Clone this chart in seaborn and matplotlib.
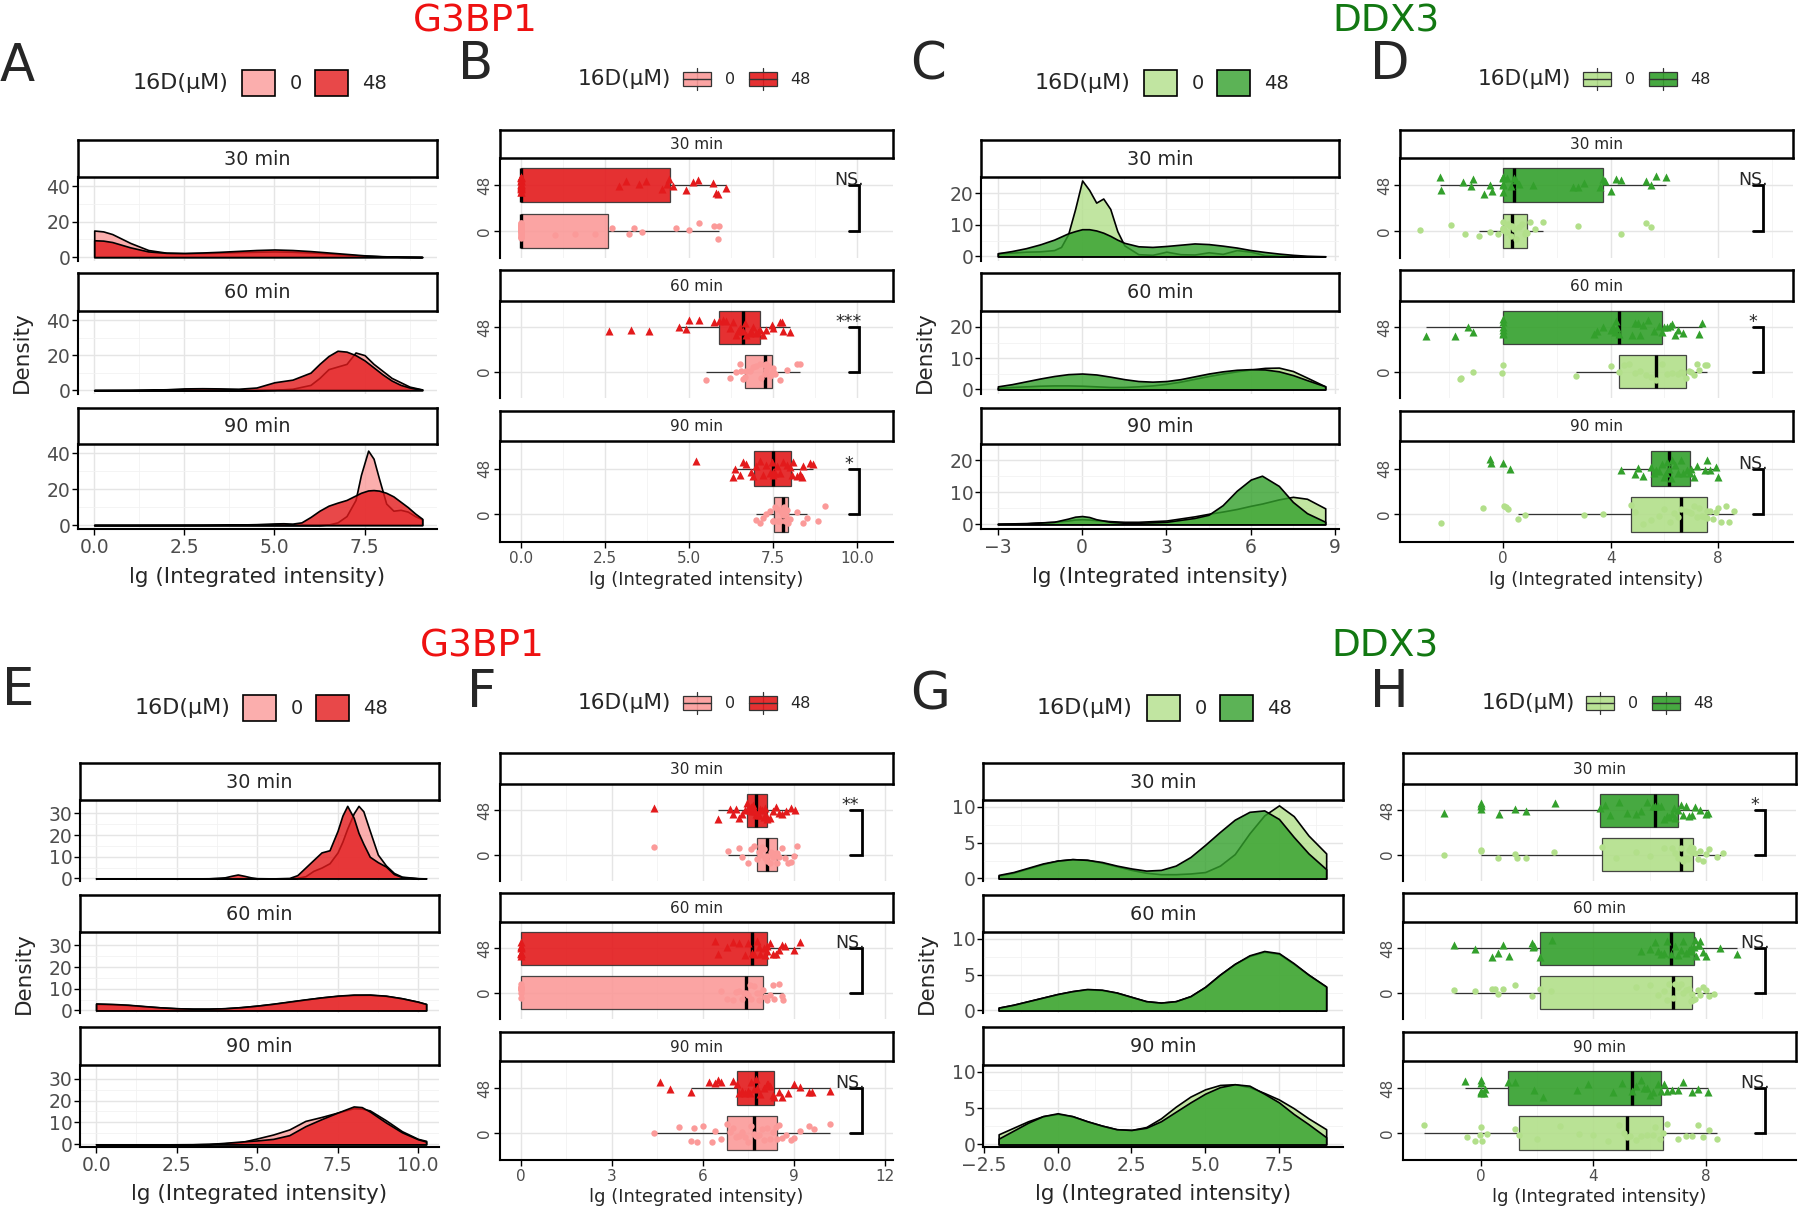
import numpy as np
import pandas as pd
import matplotlib
matplotlib.use("Agg")
import matplotlib.pyplot as plt
from matplotlib.colors import to_rgba
from matplotlib.patches import Patch, Rectangle
from matplotlib.lines import Line2D
from matplotlib.legend_handler import HandlerBase
import seaborn as sns

sns.set_theme(style="white")
plt.rcParams['font.family'] = ['DejaVu Sans']
np.random.seed(3)

FACETS = ['30 min', '60 min', '90 min']

# ---------------- density curves ----------------
# A (G3BP1, top row)
A30_x = [0, 0.25, 0.5, 1, 1.5, 2, 2.5, 3, 3.5, 4, 4.5, 5, 5.5, 6, 6.5, 7, 7.5, 8, 8.5, 9.1]
A30_0 = [15, 14.5, 13, 8, 4, 2.5, 2.2, 2.3, 2.5, 2.8, 3.0, 3.2, 3.0, 2.6, 2.0, 1.3, 0.8, 0.4, 0.2, 0.05]
A30_48 = [9.5, 9.3, 8.5, 5.5, 3.2, 2.4, 2.3, 2.6, 3.0, 3.5, 4.0, 4.3, 4.0, 3.4, 2.6, 1.8, 1.0, 0.5, 0.2, 0.05]
A60_x = [0, 1, 2, 2.5, 3, 3.5, 4, 4.5, 5, 5.5, 6, 6.25, 6.5, 6.75, 7, 7.25, 7.5, 7.75, 8, 8.25, 8.5, 8.75, 9.1]
A60_0 = [0, 0, 0, 0, 0, 0, 0, 0, 0.2, 0.8, 3, 7, 12, 13.5, 15, 21.5, 20, 15, 11, 7, 4.5, 2, 0.4]
A60_48 = [0, 0.1, 0.5, 1.0, 1.1, 1.0, 0.8, 1.5, 4.5, 6.0, 10, 15, 19.5, 22.5, 22, 20, 17, 13, 9, 5.5, 3, 1.5, 0.3]
A90_x = [0, 1, 2, 3, 4, 4.5, 5, 5.25, 5.5, 5.75, 6, 6.25, 6.5, 6.75, 7, 7.25, 7.4, 7.6, 7.75, 7.9, 8.1, 8.3, 8.5, 8.7, 8.9, 9.1]
A90_0 = [0, 0, 0, 0, 0, 0, 0, 0, 0, 0, 0, 0, 0.3, 1.5, 5, 14, 28, 41.5, 37, 26, 12, 8, 8.5, 7.5, 5, 3.2]
A90_48 = [0, 0, 0.05, 0.1, 0.3, 0.5, 0.9, 1.0, 0.8, 1.5, 4.5, 8, 10.8, 12.5, 14, 16.5, 18, 19.3, 19.5, 19.2, 18, 16, 13, 10, 6.5, 3.5]

# C (DDX3, top row)
C30_x = [-3, -2.5, -2, -1.5, -1, -0.75, -0.5, -0.25, 0, 0.25, 0.5, 0.75, 1, 1.25, 1.5, 2, 2.5, 3, 3.5, 4, 4.5, 5, 5.5, 6, 6.5, 7, 7.5, 8, 8.65]
C30_0 = [1.0, 1.2, 1.5, 1.6, 2.0, 3.0, 7.0, 15, 24, 21, 17, 18.3, 15, 8, 3.5, 0.7, 0.5, 1.5, 0.7, 0.6, 1.3, 0.8, 2.0, 1.5, 0.4, 0.2, 0.1, 0.05, 0]
C30_48 = [1.0, 1.7, 2.6, 3.8, 5.3, 6.3, 7.3, 8.0, 8.6, 8.6, 8.2, 7.5, 6.5, 5.3, 4.3, 3.2, 3.0, 3.3, 3.7, 4.1, 3.9, 3.4, 2.8, 2.0, 1.4, 0.9, 0.5, 0.2, 0.05]
C60_x = [-3, -2.5, -2, -1.5, -1, -0.5, 0, 0.5, 1, 1.5, 2, 2.5, 3, 3.5, 4, 4.5, 5, 5.5, 6, 6.5, 7, 7.5, 8, 8.65]
C60_0 = [0.5, 0.8, 1.0, 1.2, 1.3, 1.3, 1.2, 1.0, 0.8, 0.8, 1.0, 1.3, 1.8, 2.5, 3.4, 4.3, 5.1, 5.8, 6.4, 6.9, 7.0, 5.9, 3.8, 1.0]
C60_48 = [1.0, 1.7, 2.6, 3.5, 4.3, 4.9, 5.1, 4.8, 4.1, 3.3, 2.7, 2.5, 2.7, 3.3, 4.2, 5.1, 5.8, 6.3, 6.5, 6.4, 5.8, 4.6, 3.0, 1.0]
C90_x = [-3, -2, -1, -0.5, -0.25, 0, 0.25, 0.5, 1, 1.5, 2, 3, 4, 4.5, 5, 5.5, 6, 6.4, 7, 7.5, 8, 8.65]
C90_0 = [0.2, 0.4, 0.8, 1.2, 1.5, 1.6, 1.5, 1.3, 1.0, 0.8, 0.8, 1.2, 2.5, 3.3, 4.0, 4.8, 5.8, 6.5, 7.8, 8.6, 8.0, 5.0]
C90_48 = [0.2, 0.3, 0.8, 1.8, 2.4, 2.6, 2.3, 1.6, 0.8, 0.5, 0.5, 0.8, 2.0, 3.0, 6.0, 10.5, 14, 15.2, 12, 7, 3.5, 0.8]

# E (G3BP1, bottom row)
E30_x = [0, 1, 2, 3, 3.5, 4, 4.2, 4.4, 4.6, 4.8, 5, 5.5, 6, 6.25, 6.5, 6.75, 7, 7.25, 7.5, 7.65, 7.8, 8, 8.15, 8.3, 8.5, 8.75, 9, 9.25, 9.5, 10, 10.25]
E30_0 = [0, 0, 0, 0, 0, 0, 0, 0, 0, 0, 0, 0, 0, 0.3, 1, 3.5, 5, 7, 12, 17, 23, 30, 33.5, 31, 22, 11, 6, 2.5, 0.8, 0.1, 0]
E30_48 = [0, 0, 0, 0, 0.05, 0.5, 1.2, 1.8, 1.2, 0.5, 0.1, 0, 0.2, 1.5, 5, 8.5, 12, 13, 22, 29, 33.5, 28, 21, 16, 10, 7.5, 5.5, 2, 0.6, 0.05, 0]
E60_x = [0, 0.5, 1, 1.5, 2, 2.5, 3, 3.5, 4, 4.5, 5, 5.5, 6, 6.5, 7, 7.5, 8, 8.5, 9, 9.5, 10, 10.25]
E60_0 = [3.0, 2.8, 2.5, 1.9, 1.4, 1.0, 0.8, 0.8, 1.0, 1.5, 2.2, 3.0, 4.0, 5.0, 6.0, 6.7, 7.1, 7.2, 6.7, 5.6, 4.0, 2.9]
E60_48 = [3.2, 3.0, 2.6, 2.0, 1.4, 1.0, 0.8, 0.8, 1.0, 1.5, 2.2, 3.1, 4.1, 5.1, 6.0, 6.8, 7.3, 7.3, 6.8, 5.6, 4.0, 3.0]
E90_x = [0, 1, 2, 3, 3.5, 4, 4.5, 5, 5.5, 6, 6.5, 7, 7.5, 8, 8.25, 8.5, 9, 9.5, 10, 10.25]
E90_0 = [0, 0, 0, 0.05, 0.2, 0.5, 1.0, 2.7, 4.5, 6.8, 10.7, 12.5, 14.5, 16.5, 16.3, 15.5, 11, 6, 2.5, 1.6]
E90_48 = [0, 0, 0, 0.05, 0.2, 0.7, 1.3, 1.8, 2.5, 4.2, 8.3, 11.5, 14.5, 17.3, 17, 15, 10, 5.5, 2.3, 1.3]

# G (DDX3, bottom row)
G_x = [-2, -1.5, -1, -0.5, 0, 0.5, 1, 1.5, 2, 2.5, 3, 3.5, 4, 4.5, 5, 5.5, 6, 6.5, 7, 7.5, 8, 8.5, 9.1]
G30_0 = [0.4, 0.8, 1.4, 2.0, 2.5, 2.7, 2.6, 2.2, 1.7, 1.2, 0.8, 0.6, 0.6, 0.7, 0.9, 1.8, 3.4, 6.3, 8.8, 10.2, 8.7, 6.0, 3.5]
G30_48 = [0.5, 0.9, 1.5, 2.1, 2.5, 2.7, 2.6, 2.3, 1.8, 1.4, 1.1, 1.2, 1.8, 3.0, 4.7, 6.5, 8.2, 9.3, 9.5, 8.3, 5.8, 3.5, 1.3]
G60_0 = [0.4, 0.8, 1.3, 1.8, 2.3, 2.7, 2.95, 2.85, 2.5, 1.9, 1.3, 1.1, 1.3, 2.0, 3.3, 5.0, 6.5, 7.6, 8.2, 7.9, 6.5, 5.0, 3.3]
G60_48 = [0.4, 0.8, 1.3, 1.8, 2.3, 2.7, 3.0, 2.9, 2.5, 1.9, 1.3, 1.1, 1.3, 2.0, 3.3, 5.0, 6.5, 7.7, 8.3, 8.0, 6.6, 5.0, 3.35]
G90_0 = [1.4, 2.3, 3.2, 3.9, 4.2, 3.9, 3.2, 2.6, 2.1, 2.0, 2.4, 3.6, 5.2, 6.6, 7.6, 8.2, 8.3, 7.9, 7.1, 6.2, 5.0, 3.6, 2.1]
G90_48 = [0.8, 1.9, 3.0, 3.9, 4.3, 3.9, 3.2, 2.6, 2.1, 2.0, 2.3, 3.2, 4.5, 5.8, 7.0, 7.9, 8.3, 8.1, 7.0, 5.8, 4.2, 2.8, 1.0]

# ---------------- single-cell values for the box / jitter panels ----------------
B30_0 = [0, 0, 0, 0, 0, 0, 0, 0, 0, 0, 0, 0, 0, 0, 0, 0, 0, 0, 0, 0, 0, 0, 0, 0, 0,
         1.0, 1.6, 2.2, 2.7, 3.2, 3.35, 3.6, 4.6, 5.0, 5.3, 5.75, 5.85, 5.9]
B30_48 = [0, 0, 0, 0, 0, 0, 0, 0, 0, 0, 0, 0, 0, 0, 0, 0, 0,
          2.9, 3.1, 3.5, 3.7, 4.2, 4.35, 4.4, 4.5, 4.9, 5.1, 5.25, 5.7, 5.8, 5.85, 6.1]
B60_0 = [5.5, 6.2, 6.4, 6.5, 6.55, 6.6, 6.65, 6.7, 6.8, 6.9, 7.0, 7.1, 7.15, 7.25, 7.25, 7.3, 7.3, 7.35,
         7.4, 7.45, 7.5, 7.5, 7.55, 7.7, 7.9, 8.2, 8.3]
B60_48 = [2.6, 3.25, 3.8, 4.7, 4.9, 5.0, 5.3, 5.75, 5.9, 6.0, 6.1, 6.2, 6.3, 6.4, 6.45, 6.5, 6.6, 6.65,
          6.7, 6.8, 6.85, 6.9, 7.0, 7.05, 7.1, 7.2, 7.3, 7.45, 7.5, 7.7, 7.75, 7.8, 8.0]
B90_0 = [7.0, 7.1, 7.2, 7.3, 7.4, 7.5, 7.5, 7.55, 7.6, 7.65, 7.7, 7.72, 7.75, 7.78, 7.8, 7.82, 7.85,
         7.88, 7.9, 7.92, 7.95, 8.0, 8.2, 8.4, 8.5, 8.85, 9.05]
B90_48 = [5.2, 6.3, 6.35, 6.5, 6.6, 6.7, 6.85, 6.9, 7.0, 7.1, 7.2, 7.3, 7.4, 7.45, 7.5, 7.5, 7.55, 7.6,
          7.7, 7.8, 7.9, 8.0, 8.05, 8.1, 8.2, 8.3, 8.35, 8.4, 8.6, 8.7]

D30_0 = [-3.1, -1.95, -1.4, -0.9, -0.5, -0.2, 0, 0, 0, 0, 0.1, 0.2, 0.25, 0.3, 0.32, 0.4, 0.5, 0.6,
         0.7, 0.8, 0.85, 0.9, 1.0, 1.2, 1.5, 2.8, 4.4, 5.3, 5.5]
D30_48 = [-2.35, -2.3, -1.5, -1.2, -1.1, -0.7, -0.5, -0.4, 0, 0, 0, 0, 0, 0, 0.15, 0.3, 0.42, 0.5, 0.6,
          1.1, 2.6, 2.8, 3.0, 3.6, 3.7, 3.8, 4.0, 4.2, 4.4, 5.3, 5.5, 5.7, 6.05]
D60_0 = [-1.6, -1.55, -1.1, -0.05, 0.0, 2.7, 4.0, 4.32, 4.5, 4.7, 4.9, 5.1, 5.3, 5.5, 5.7, 5.9, 6.1,
         6.3, 6.5, 6.6, 6.7, 6.8, 6.9, 7.0, 7.1, 7.2, 7.3, 7.5, 7.6]
D60_48 = [-2.85, -1.8, -1.3, -1.1, 0, 0, 0, 0, 0, 0, 3.4, 3.5, 3.7, 4.0, 4.1, 4.15, 4.2, 4.25, 4.3,
          4.8, 4.9, 5.0, 5.1, 5.2, 5.4, 5.6, 5.8, 5.9, 6.0, 6.1, 6.2, 6.3, 6.4, 6.5, 6.7, 7.3, 7.4]
D90_0 = [-2.3, -0.75, 0.05, 0.1, 0.2, 0.55, 0.8, 3.0, 3.7, 4.74, 4.9, 5.2, 5.5, 5.8, 6.0, 6.2, 6.35,
         6.5, 6.6, 6.8, 6.9, 7.0, 7.1, 7.2, 7.3, 7.4, 7.5, 7.57, 7.6, 7.7, 7.8, 7.9, 8.0, 8.1, 8.3, 8.4, 8.6]
D90_48 = [-0.5, -0.45, 0.0, 0.25, 4.4, 4.9, 5.0, 5.2, 5.5, 5.6, 5.7, 5.8, 5.9, 6.0, 6.05, 6.1, 6.17,
          6.25, 6.3, 6.4, 6.5, 6.6, 6.7, 6.85, 6.95, 7.0, 7.1, 7.2, 7.5, 7.6, 7.7, 7.9, 8.0]

F30_0 = [4.4, 6.84, 7.2, 7.3, 7.5, 7.6, 7.7, 7.79, 7.85, 7.9, 7.95, 8.0, 8.05, 8.1, 8.13, 8.2, 8.25,
         8.3, 8.35, 8.4, 8.43, 8.46, 8.5, 8.6, 8.7, 8.8, 8.9, 9.0, 9.1]
F30_48 = [4.4, 6.5, 6.9, 7.0, 7.1, 7.2, 7.3, 7.4, 7.46, 7.5, 7.55, 7.6, 7.62, 7.65, 7.7, 7.72, 7.75,
          7.8, 7.85, 7.9, 7.95, 8.0, 8.05, 8.08, 8.1, 8.2, 8.3, 8.4, 8.5, 8.6, 8.75, 8.9, 9.05]
F60_0 = [0, 0, 0, 0, 0, 0, 0, 0, 0, 6.6, 6.8, 7.0, 7.1, 7.2, 7.3, 7.35, 7.42, 7.5, 7.55, 7.6, 7.7,
         7.8, 7.85, 7.9, 7.99, 8.05, 8.1, 8.2, 8.3, 8.35, 8.5, 8.6, 8.65]
F60_48 = [0, 0, 0, 0, 0, 0, 0, 0, 0, 6.4, 6.5, 6.8, 7.0, 7.2, 7.4, 7.5, 7.63, 7.7, 7.8, 7.85, 7.9,
          8.0, 8.05, 8.1, 8.13, 8.2, 8.3, 8.4, 8.5, 8.6, 8.7, 9.0, 9.2]
F90_0 = [4.4, 5.2, 5.6, 5.7, 5.8, 6.0, 6.3, 6.4, 6.6, 6.78, 6.9, 7.0, 7.1, 7.2, 7.3, 7.4, 7.5, 7.6,
         7.68, 7.75, 7.85, 7.95, 8.0, 8.1, 8.2, 8.3, 8.4, 8.43, 8.5, 8.6, 8.75, 8.9, 9.0, 9.2, 9.5, 9.65, 10.2]
F90_48 = [4.6, 4.9, 5.6, 6.2, 6.4, 6.5, 6.6, 7.0, 7.11, 7.2, 7.3, 7.4, 7.5, 7.55, 7.6, 7.7, 7.75,
          7.8, 7.9, 8.0, 8.1, 8.15, 8.2, 8.3, 8.35, 8.5, 8.6, 8.8, 9.0, 9.2, 9.5, 9.6, 10.2]

H30_0 = [-1.33, 0, 0, 0.6, 1.2, 1.3, 1.6, 2.6, 4.3, 4.8, 5.5, 6.0, 6.5, 6.8, 6.9, 7.0, 7.1, 7.15,
         7.2, 7.3, 7.35, 7.4, 7.45, 7.5, 7.54, 7.6, 7.7, 7.8, 7.9, 8.0, 8.1, 8.4, 8.6]
H30_48 = [-1.33, 0, 0, 0, 0, 0.65, 1.2, 1.6, 2.62, 4.24, 4.4, 4.6, 4.9, 5.2, 5.5, 5.7, 5.9, 6.1,
          6.2, 6.3, 6.4, 6.5, 6.6, 6.7, 6.8, 6.85, 6.9, 7.0, 7.1, 7.2, 7.3, 7.4, 7.5, 7.6, 7.8, 8.0, 8.07]
H60_0 = [-0.95, -0.2, 0.4, 0.5, 0.6, 0.8, 1.2, 1.8, 2.1, 2.5, 5.5, 6.0, 6.3, 6.5, 6.6, 6.7, 6.82,
         6.9, 7.0, 7.1, 7.2, 7.3, 7.4, 7.45, 7.5, 7.55, 7.6, 7.7, 7.8, 7.9, 8.0, 8.1, 8.27]
H60_48 = [-0.95, -0.2, 0.4, 0.6, 0.8, 1.0, 1.8, 1.85, 1.9, 2.09, 2.52, 5.7, 6.0, 6.2, 6.3, 6.4, 6.5,
          6.6, 6.77, 6.9, 7.0, 7.1, 7.2, 7.3, 7.4, 7.45, 7.5, 7.58, 7.6, 7.65, 7.7, 7.75, 7.8, 7.9, 8.0, 8.5, 9.1]
H90_0 = [-2.01, -0.5, -0.2, -0.05, 0, 0.05, 0.2, 1.2, 1.37, 2.0, 2.8, 3.5, 4.0, 4.5, 4.9, 5.1, 5.19,
         5.3, 5.5, 5.7, 5.9, 6.1, 6.2, 6.35, 6.47, 6.6, 7.0, 7.3, 7.5, 7.7, 7.9, 8.1, 8.39]
H90_48 = [-0.56, 0, 0, 0, 0, 0, 0.1, 0.15, 0.95, 1.2, 1.9, 2.2, 3.4, 3.8, 4.7, 5.0, 5.37, 5.5, 5.7,
          5.8, 5.9, 6.0, 6.1, 6.3, 6.4, 6.5, 6.6, 6.8, 7.0, 7.2, 7.5, 7.7, 8.07]

SIG_B = ['NS.', '***', '*']
SIG_D = ['NS.', '*', 'NS.']
SIG_F = ['**', 'NS.', 'NS.']
SIG_H = ['*', 'NS.', 'NS.']

RED = {'0': '#FB9A99', '48': '#E31A1C'}
GREEN = {'0': '#B2DF8A', '48': '#33A02C'}

# ---------------- layout helpers (pixel coordinates of the 1800x1218 canvas) ----------------
W, H = 1800, 1218
fig = plt.figure(figsize=(18, 12.18), dpi=100)
fig.patch.set_facecolor('white')


def rect(x0, y0, x1, y1):
    return [x0 / W, 1 - y1 / H, (x1 - x0) / W, (y1 - y0) / H]


def fx(x):
    return x / W


def fy(y):
    return 1 - y / H


def strip_box(ax, label, fs):
    ax.set_zorder(5)
    ax.set_xticks([])
    ax.set_yticks([])
    ax.set_facecolor('white')
    for s in ax.spines.values():
        s.set_visible(True)
        s.set_color('black')
        s.set_linewidth(1.8)
    ax.text(0.5, 0.48, label, ha='center', va='center', fontsize=fs, transform=ax.transAxes)


def style_axes(ax, xlim, ylim, xmaj, xmin, ymaj, ymin, last, fs):
    ax.set_xticks(xmaj)
    ax.set_xticks(xmin, minor=True)
    ax.set_yticks(ymaj)
    ax.set_yticks(ymin, minor=True)
    ax.set_xlim(*xlim)
    ax.set_ylim(*ylim)
    ax.set_facecolor('white')
    ax.set_axisbelow(True)
    ax.grid(True, which='major', color='#E5E5E5', linewidth=1.0)
    ax.grid(True, which='minor', color='#F2F2F2', linewidth=0.6)
    ax.spines['top'].set_visible(False)
    ax.spines['right'].set_visible(False)
    ax.spines['left'].set_visible(True)
    ax.spines['left'].set_color('black')
    ax.spines['left'].set_linewidth(1.5)
    ax.spines['bottom'].set_visible(last)
    ax.spines['bottom'].set_color('black')
    ax.spines['bottom'].set_linewidth(1.5)
    ax.tick_params(which='minor', length=0)
    ax.tick_params(axis='y', which='major', left=True, length=4, width=1.0, color='black',
                   labelsize=fs, labelcolor='#4D4D4D', pad=1.5)
    ax.tick_params(axis='x', which='major', bottom=last, labelbottom=last, length=4, width=1.0,
                   color='black', labelsize=fs, labelcolor='#4D4D4D', pad=2.5)
    ax.set_xlabel('')
    ax.set_ylabel('')


def density_panel(curves, pal, xpx, strips, panels, xlim, ylim, xmaj, xmin, ymaj, ymin):
    for i, (xg, y0, y48) in enumerate(curves):
        ax = fig.add_axes(rect(xpx[0], panels[i][0], xpx[1], panels[i][1]))
        for ys, d in ((y0, '0'), (y48, '48')):
            ax.fill_between(xg, ys, 0, facecolor=to_rgba(pal[d], 0.8), edgecolor='black',
                            linewidth=1.2, zorder=2)
        style_axes(ax, xlim, ylim, xmaj, xmin, ymaj, ymin, i == 2, 13.5)
        sax = fig.add_axes(rect(xpx[0], strips[i][0], xpx[1], strips[i][1]))
        strip_box(sax, FACETS[i], 13.8)


def box_panel(groups, pal, xpx, strips, panels, xlim, xmaj, xmin, sigs, brk):
    for i, (v0, v48) in enumerate(groups):
        ax = fig.add_axes(rect(xpx[0], panels[i][0], xpx[1], panels[i][1]))
        df = pd.DataFrame({'value': list(v48) + list(v0),
                           'dose': ['48'] * len(v48) + ['0'] * len(v0)})
        sns.boxplot(data=df, x='value', y='dose', order=['48', '0'], hue='dose', palette=pal,
                    saturation=1, width=0.75, showfliers=False, linewidth=0.9, linecolor='#333333',
                    medianprops=dict(color='black', linewidth=2.4),
                    capprops=dict(linewidth=0), boxprops=dict(alpha=0.9),
                    legend=False, ax=ax)
        sns.stripplot(data=df[df['dose'] == '48'], x='value', y='dose', order=['48', '0'],
                      color=pal['48'], marker='^', size=5.8, jitter=0.2, linewidth=0,
                      zorder=3, ax=ax)
        sns.stripplot(data=df[df['dose'] == '0'], x='value', y='dose', order=['48', '0'],
                      color=pal['0'], marker='o', size=4.6, jitter=0.2, linewidth=0,
                      zorder=3, ax=ax)
        style_axes(ax, xlim, (1.6, -0.6), xmaj, xmin, [0, 1], [], i == 2, 11)
        ax.set_yticklabels(['48', '0'], rotation=90, va='center', fontsize=11)
        xt, xb = brk
        ax.plot([xt, xb, xb, xt], [0, 0, 1, 1], color='black', lw=2.0, clip_on=False,
                solid_joinstyle='miter', zorder=4)
        ax.text(xt, 0, sigs[i], ha='center', va='baseline', fontsize=12.5, zorder=5)
        sax = fig.add_axes(rect(xpx[0], strips[i][0], xpx[1], strips[i][1]))
        strip_box(sax, FACETS[i], 11)


class BoxKey(HandlerBase):
    def create_artists(self, legend, orig_handle, xdescent, ydescent, width, height, fontsize, trans):
        x0, y0 = -xdescent, -ydescent
        fc = orig_handle.get_facecolor()
        wl = Line2D([x0 + width / 2] * 2, [y0, y0 + height], color='#333333', lw=0.9, transform=trans)
        r = Rectangle((x0, y0 + 0.17 * height), width, 0.66 * height, facecolor=fc,
                      edgecolor='#333333', lw=0.9, transform=trans)
        m = Line2D([x0, x0 + width], [y0 + height / 2] * 2, color='#333333', lw=1.0, transform=trans)
        return [wl, r, m]


def density_legend(pal, tx, cy, kx):
    fig.text(fx(tx), fy(cy), '16D(μM)', ha='left', va='center', fontsize=16)
    handles = [Patch(facecolor=to_rgba(pal[d], 0.8), edgecolor='black', linewidth=1.2) for d in ('0', '48')]
    fig.legend(handles=handles, labels=['0', '48'], loc='center left', bbox_to_anchor=(fx(kx), fy(cy)),
               ncol=2, frameon=False, fontsize=14, handlelength=1.7, handleheight=1.7,
               handletextpad=0.75, columnspacing=0.65, borderpad=0, borderaxespad=0)


def box_legend(pal, tx, cy, kx):
    fig.text(fx(tx), fy(cy), '16D(μM)', ha='left', va='center', fontsize=15.6)
    handles = [Patch(facecolor=to_rgba(pal[d], 0.9), edgecolor='#333333') for d in ('0', '48')]
    fig.legend(handles=handles, labels=['0', '48'], loc='center left', bbox_to_anchor=(fx(kx), fy(cy)),
               ncol=2, frameon=False, fontsize=11.5, handlelength=1.75, handleheight=1.72,
               handletextpad=0.85, columnspacing=0.9, borderpad=0, borderaxespad=0,
               handler_map={Patch: BoxKey()})


XLAB = 'lg (Integrated intensity)'

TOP_D_STRIPS = [(140, 177), (273, 311), (408, 444)]
TOP_D_PANELS = [(177, 261), (311, 394), (444, 529)]
BOT_D_STRIPS = [(763, 800), (895, 932), (1027, 1065)]
BOT_D_PANELS = [(800, 881), (932, 1013), (1065, 1147)]
TOP_B_STRIPS = [(130, 158), (270, 301), (411, 441)]
TOP_B_PANELS = [(158, 258), (301, 398), (441, 542)]
BOT_B_STRIPS = [(753, 784), (893, 922), (1032, 1061)]
BOT_B_PANELS = [(784, 881), (922, 1019), (1061, 1160)]

# A
density_panel([(A30_x, A30_0, A30_48), (A60_x, A60_0, A60_48), (A90_x, A90_0, A90_48)], RED,
              (78, 437), TOP_D_STRIPS, TOP_D_PANELS, (-0.45, 9.51), (-2.2, 45.2),
              [0, 2.5, 5, 7.5], [1.25, 3.75, 6.25, 8.75], [0, 20, 40], [10, 30])
# C
density_panel([(C30_x, C30_0, C30_48), (C60_x, C60_0, C60_48), (C90_x, C90_0, C90_48)], GREEN,
              (981, 1339), TOP_D_STRIPS, TOP_D_PANELS, (-3.6, 9.14), (-1.45, 25.1),
              [-3, 0, 3, 6, 9], [-1.5, 1.5, 4.5, 7.5], [0, 10, 20], [5, 15])
# E
density_panel([(E30_x, E30_0, E30_48), (E60_x, E60_0, E60_48), (E90_x, E90_0, E90_48)], RED,
              (80, 439), BOT_D_STRIPS, BOT_D_PANELS, (-0.5, 10.65), (-1.2, 36.2),
              [0, 2.5, 5, 7.5, 10], [1.25, 3.75, 6.25, 8.75], [0, 10, 20, 30], [5, 15, 25])
# G
density_panel([(G_x, G30_0, G30_48), (G_x, G60_0, G60_48), (G_x, G90_0, G90_48)], GREEN,
              (983, 1343), BOT_D_STRIPS, BOT_D_PANELS, (-2.53, 9.67), (-0.35, 10.95),
              [-2.5, 0, 2.5, 5, 7.5], [-1.25, 1.25, 3.75, 6.25, 8.75], [0, 5, 10], [2.5, 7.5])

# B
box_panel([(B30_0, B30_48), (B60_0, B60_48), (B90_0, B90_48)], RED, (500, 893),
          TOP_B_STRIPS, TOP_B_PANELS, (-0.64, 11.07), [0, 2.5, 5, 7.5, 10],
          [1.25, 3.75, 6.25, 8.75], SIG_B, (9.76, 10.06))
# D
box_panel([(D30_0, D30_48), (D60_0, D60_48), (D90_0, D90_48)], GREEN, (1400, 1793),
          TOP_B_STRIPS, TOP_B_PANELS, (-3.83, 10.78), [0, 4, 8], [-2, 2, 6, 10], SIG_D, (9.3, 9.67))
# F
box_panel([(F30_0, F30_48), (F60_0, F60_48), (F90_0, F90_48)], RED, (500, 893),
          BOT_B_STRIPS, BOT_B_PANELS, (-0.69, 12.27), [0, 3, 6, 9, 12],
          [1.5, 4.5, 7.5, 10.5], SIG_F, (10.85, 11.24))
# H
box_panel([(H30_0, H30_48), (H60_0, H60_48), (H90_0, H90_48)], GREEN, (1403, 1796),
          BOT_B_STRIPS, BOT_B_PANELS, (-2.77, 11.2), [0, 4, 8], [-2, 2, 6, 10], SIG_H, (9.75, 10.1))

# legends
density_legend(RED, 133, 83, 242)
density_legend(GREEN, 1035, 83, 1144)
density_legend(RED, 135, 708, 243)
density_legend(GREEN, 1037, 708, 1147)
box_legend(RED, 578, 79, 683)
box_legend(GREEN, 1478, 79, 1583)
box_legend(RED, 578, 703, 683)
box_legend(GREEN, 1482, 703, 1586)

# axis titles
for cx, cy in [(257, 577), (1160, 577), (259, 1194), (1163, 1194)]:
    fig.text(fx(cx), fy(cy), XLAB, ha='center', va='center', fontsize=15.5)
for cx, cy in [(696, 580), (1596, 580), (696, 1197), (1599, 1197)]:
    fig.text(fx(cx), fy(cy), XLAB, ha='center', va='center', fontsize=13)
for cx, cy in [(22, 352), (925, 352), (24, 973), (927, 973)]:
    fig.text(fx(cx), fy(cy), 'Density', ha='center', va='center', rotation=90, fontsize=15.5)

# panel letters
for lab, x, y in [('A', 0, 81), ('B', 458, 79), ('C', 910, 79), ('D', 1370, 79),
                  ('E', 2, 705), ('F', 467, 707), ('G', 910, 709), ('H', 1370, 707)]:
    fig.text(fx(x), fy(y), lab, ha='left', va='baseline', fontsize=37)

# protein titles
for txt, col, x, y in [('G3BP1', '#EE1111', 475, 31), ('DDX3', '#127812', 1386, 31),
                       ('G3BP1', '#EE1111', 482, 657), ('DDX3', '#127812', 1385, 657)]:
    fig.text(fx(x), fy(y), txt, ha='center', va='baseline', fontsize=27, color=col)

fig.savefig('out.png', dpi=100, facecolor='white')
